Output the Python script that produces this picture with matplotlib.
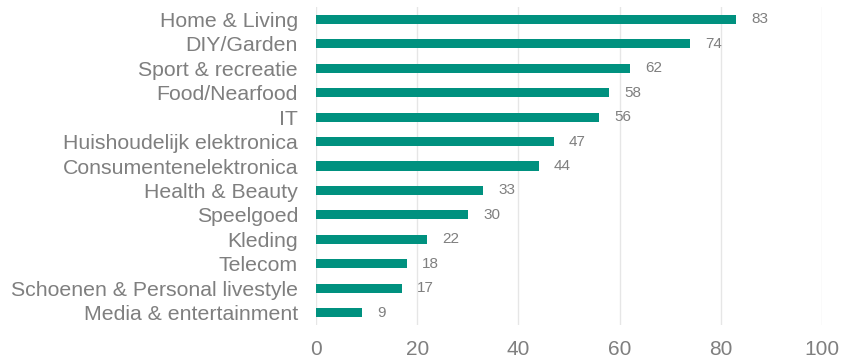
import matplotlib.pyplot as plt

plt.rcParams['font.family'] = ['Liberation Sans', 'DejaVu Sans']

# Data
categories = ['Home & Living', 'DIY/Garden', 'Sport & recreatie', 'Food/Nearfood', 'IT',
              'Huishoudelijk elektronica', 'Consumentenelektronica', 'Health & Beauty',
              'Speelgoed', 'Kleding', 'Telecom', 'Schoenen & Personal livestyle',
              'Media & entertainment']
values = [83, 74, 62, 58, 56, 47, 44, 33, 30, 22, 18, 17, 9]
x_ticks = [0, 20, 40, 60, 80, 100]

bar_color = '#00917f'
text_color = '#7f7f7f'

fig = plt.figure(figsize=(8.42, 3.58), dpi=100)
ax = fig.add_axes([316 / 842, 1 - 325 / 358, 506 / 842, 318 / 358])

pos = list(range(len(categories)))
bars = ax.barh(pos, values, height=0.37, color=bar_color, zorder=3)

for p, v in zip(pos, values):
    ax.annotate(str(v), (v, p), xytext=(11, 0), textcoords='offset points',
                ha='left', va='center', fontsize=11, color=text_color)

ax.set_xlim(0, 100)
ax.set_ylim(len(categories) - 0.5, -0.5)
ax.set_xticks(x_ticks)
ax.set_yticks(pos)
ax.set_yticklabels(categories)

ax.grid(axis='x', color='#e6e6e6', linewidth=1, zorder=0)
for s in ax.spines.values():
    s.set_visible(False)

ax.tick_params(axis='y', length=0, pad=13, labelsize=15.3, labelcolor=text_color)
ax.tick_params(axis='x', length=0, pad=11, labelsize=15, labelcolor=text_color)

fig.savefig('out.png', dpi=100)
